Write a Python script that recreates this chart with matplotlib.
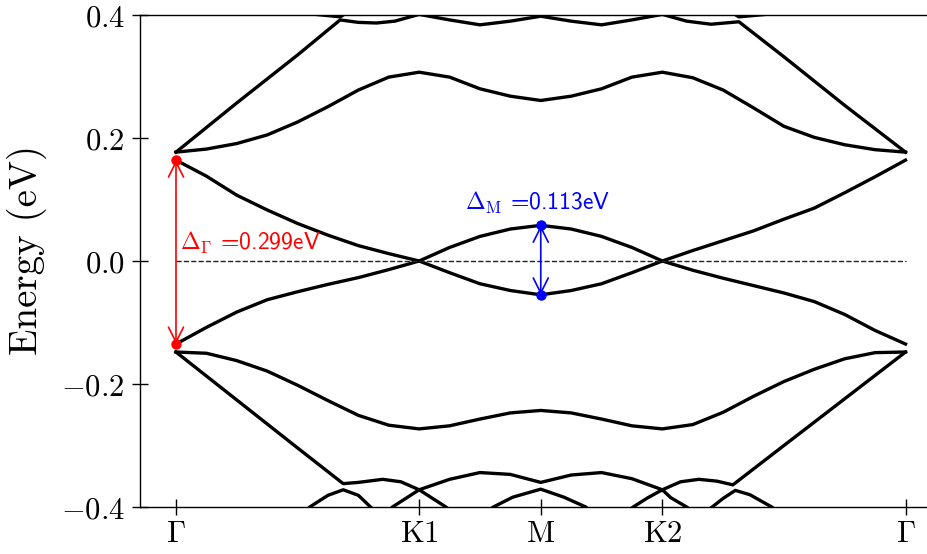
import numpy as np
import matplotlib
matplotlib.use("Agg")
import matplotlib.pyplot as plt

plt.rcParams['mathtext.fontset'] = 'cm'

# high-symmetry path: Γ - K1 - M - K2 - Γ
kpts = [0, 2, 3, 4, 6]
klabels = [r'$\Gamma$', r'$\mathrm{K1}$', r'$\mathrm{M}$', r'$\mathrm{K2}$', r'$\Gamma$']

kgrid = [0, .25, .5, .75, 1, 1.25, 1.5, 1.75, 2, 2.25, 2.5, 2.75, 3,
         3.25, 3.5, 3.75, 4, 4.25, 4.5, 4.75, 5, 5.25, 5.5, 5.75, 6]

# lowest conduction / highest valence bands (eV)
c1 = [0.164, 0.138, 0.107, 0.083, 0.061, 0.042, 0.025, 0.012, 0.0,
      0.022, 0.040, 0.052, 0.058, 0.052, 0.040, 0.022, 0.0,
      0.017, 0.033, 0.049, 0.068, 0.086, 0.111, 0.137, 0.164]
v1 = [-0.135, -0.108, -0.083, -0.063, -0.050, -0.038, -0.027, -0.014, 0.0,
      -0.019, -0.037, -0.048, -0.055, -0.048, -0.037, -0.019, 0.0,
      -0.015, -0.028, -0.040, -0.052, -0.066, -0.087, -0.113, -0.135]
c2 = [0.177, 0.182, 0.191, 0.205, 0.226, 0.251, 0.278, 0.299, 0.307,
      0.299, 0.280, 0.268, 0.261, 0.268, 0.280, 0.299, 0.307,
      0.298, 0.278, 0.249, 0.219, 0.201, 0.189, 0.181, 0.177]
v2 = [-0.148, -0.150, -0.162, -0.179, -0.202, -0.227, -0.251, -0.267, -0.273,
      -0.268, -0.257, -0.247, -0.243, -0.247, -0.257, -0.268, -0.273,
      -0.266, -0.246, -0.220, -0.196, -0.176, -0.159, -0.149, -0.148]

k_c3 = [0, 0.5, 1.0, 1.35, 1.5, 1.65, 1.8, 2.0, 2.25, 2.5, 2.75, 3.0,
        3.25, 3.5, 3.75, 4.0, 4.2, 4.4, 4.63, 5.0, 5.5, 6]
c3 = [0.177, 0.257, 0.335, 0.392, 0.388, 0.387, 0.390, 0.401, 0.392, 0.384,
      0.390, 0.398, 0.390, 0.384, 0.392, 0.401, 0.390, 0.385, 0.389,
      0.332, 0.253, 0.177]

k_c4 = [0.9, 1.15, 1.35, 1.5, 1.7, 4.3, 4.48, 4.63, 4.85, 5.1]
c4 = [0.41, 0.401, 0.397, 0.415, 0.45, 0.45, 0.415, 0.397, 0.401, 0.41]

k_v3 = [0, 0.5, 1.0, 1.375, 1.5, 1.7, 1.85, 2.0, 2.25, 2.5, 2.75, 3.0,
        3.25, 3.5, 3.75, 4.0, 4.15, 4.3, 4.45, 4.58, 5.0, 5.5, 6]
v3 = [-0.148, -0.226, -0.304, -0.362, -0.360, -0.355, -0.359, -0.372,
      -0.355, -0.344, -0.347, -0.360, -0.348, -0.344, -0.354, -0.372,
      -0.359, -0.355, -0.358, -0.364, -0.300, -0.224, -0.148]

k_v4 = [0.9, 1.1, 1.25, 1.375, 1.5, 1.6, 1.7, 1.78, 2.0, 2.22, 2.4, 2.61,
        2.77, 3.0, 3.19, 3.37, 3.55, 3.76, 3.88, 4.0, 4.07, 4.2, 4.3, 4.41,
        4.5, 4.6, 4.72, 4.9, 5.1]
v4 = [-0.44, -0.400, -0.381, -0.372, -0.381, -0.400, -0.42, -0.400, -0.372,
      -0.400, -0.43, -0.400, -0.384, -0.371, -0.384, -0.400, -0.43, -0.400,
      -0.385, -0.372, -0.385, -0.400, -0.415, -0.400, -0.386, -0.373, -0.380,
      -0.400, -0.43]

gap_G = (0.164, -0.135)
gap_M = (0.058, -0.055)

fig = plt.figure(figsize=(9.27, 5.54), dpi=100)
ax = fig.add_axes([140/927, 47/554, 802/927, 492/554])

bands = [(kgrid, c1), (kgrid, v1), (kgrid, c2), (kgrid, v2),
         (k_c3, c3), (k_c4, c4), (k_v3, v3), (k_v4, v4)]
for k, e in bands:
    ax.plot(k, e, color='k', lw=2.4, solid_joinstyle='round')

ax.plot([kpts[0], kpts[-1]], [0, 0], '--', color='#222222', lw=1.0)

# gap at Gamma
ax.annotate('', xy=(0, gap_G[1]), xytext=(0, gap_G[0]),
            arrowprops=dict(arrowstyle='<->', color='red', lw=1.2,
                            shrinkA=0, shrinkB=0, mutation_scale=27))
ax.plot([0, 0], gap_G, 'o', color='red', ms=6.5)
ax.text(0.03, 0.018, r'$\Delta_\Gamma$ =%.3feV' % (gap_G[0] - gap_G[1]),
        color='red', fontsize=17, family='cmss10', ha='left', va='baseline')

# gap at M
ax.annotate('', xy=(3, gap_M[1]), xytext=(3, gap_M[0]),
            arrowprops=dict(arrowstyle='<->', color='blue', lw=1.2,
                            shrinkA=0, shrinkB=0, mutation_scale=27))
ax.plot([3, 3], gap_M, 'o', color='blue', ms=6.5)
ax.text(2.97, 0.083, r'$\Delta_\mathrm{M}$ =%.3feV' % (gap_M[0] - gap_M[1]),
        color='blue', fontsize=17, family='cmss10', ha='center', va='baseline')

ax.set_xlim(-0.296, 6.3)
ax.set_ylim(-0.4, 0.4)
ax.set_xticks(kpts)
ax.set_xticklabels(klabels)
yt = [-0.4, -0.2, 0.0, 0.2, 0.4]
ax.set_yticks(yt)
ax.set_yticklabels([r'$%.1f$' % v if v >= 0 else r'$-%.1f$' % abs(v) for v in yt])
ax.tick_params(direction='inout', length=12, width=1.0, labelsize=22)
ax.tick_params(axis='y', pad=5)
ax.tick_params(axis='x', pad=3)
for s in ax.spines.values():
    s.set_linewidth(1.0)

fig.text(27/927, 1 - 250/554, 'Energy (eV)', family='cmr10', fontsize=28,
         rotation=90, ha='center', va='center')

fig.savefig('out.png', dpi=100)
